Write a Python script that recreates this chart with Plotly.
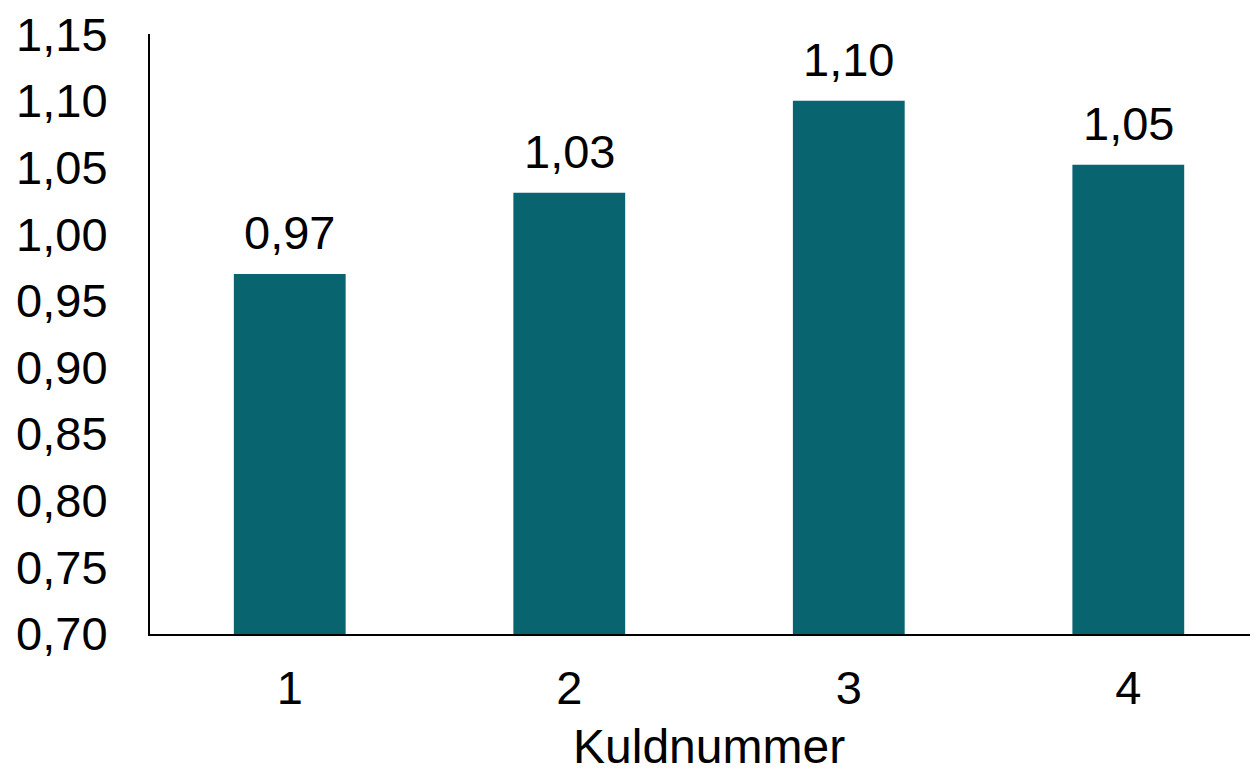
import plotly.graph_objects as go

categories = [1, 2, 3, 4]
values = [0.97, 1.031, 1.10, 1.052]
labels = ["0,97", "1,03", "1,10", "1,05"]
y_ticks = [0.70, 0.75, 0.80, 0.85, 0.90, 0.95, 1.00, 1.05, 1.10, 1.15]
x_title = "Kuldnummer"
BASE = 0.70

FONT = "Liberation Sans, Arial, sans-serif"
BAR = "#086570"

fig = go.Figure(go.Bar(
    x=categories, y=[v - BASE for v in values], base=BASE, width=0.4,
    marker=dict(color=BAR, line=dict(width=0)), hoverinfo="skip",
))

for c, v, t in zip(categories, values, labels):
    fig.add_annotation(x=c, y=v, text=t, showarrow=False, yanchor="bottom",
                       yshift=13, font=dict(family=FONT, size=47, color="black"))

# axis title, centred on the category band
fig.add_annotation(x=sum(categories) / len(categories), xref="x", y=0, yref="paper",
                   text=x_title, showarrow=False, yanchor="middle", yshift=-112,
                   font=dict(family=FONT, size=48, color="black"))

fig.update_layout(
    width=1250, height=765,
    margin=dict(l=142, r=0, t=24, b=139),
    paper_bgcolor="white", plot_bgcolor="white",
    separators=",.",
    showlegend=False,
    font=dict(family=FONT, color="black"),
)
fig.update_xaxes(
    range=[0.5, 4.464], tickvals=categories, ticktext=[str(c) for c in categories],
    showline=True, linecolor="black", linewidth=2, showgrid=False, zeroline=False,
    ticks="", ticklabelstandoff=12, tickfont=dict(family=FONT, size=47),
)
fig.update_yaxes(
    range=[0.70, 1.1501], tickvals=y_ticks, tickformat=".2f",
    showline=True, linecolor="black", linewidth=2, showgrid=False, zeroline=False,
    ticks="", ticklabelstandoff=31, ticklabeloverflow="allow",
    tickfont=dict(family=FONT, size=47),
)

fig.write_html("out.html")
